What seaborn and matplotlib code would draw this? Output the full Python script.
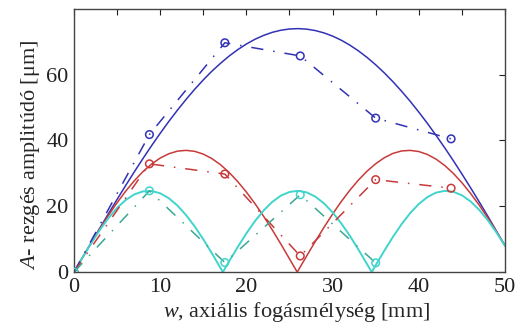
import matplotlib
matplotlib.use('Agg')
import matplotlib.pyplot as plt
from matplotlib.ticker import MultipleLocator, FuncFormatter, FixedLocator
import seaborn as sns

# solid curves (model), w in mm, A in um
w_grid = list(range(0, 51))
blue_model = [0, 4.49, 8.95, 13.39, 17.77, 22.10, 26.34, 30.48, 34.51, 38.41,
              42.17, 45.79, 49.22, 52.48, 55.55, 58.42, 61.07, 63.46, 65.67, 67.61,
              69.32, 70.77, 71.94, 72.87, 73.51, 73.89, 74.0, 73.84, 73.41, 72.70,
              71.73, 70.49, 68.99, 67.24, 65.25, 63.01, 60.55, 57.88, 54.99, 51.92,
              48.64, 45.21, 41.57, 37.82, 33.91, 29.84, 25.67, 21.40, 17.03, 12.52, 8.07]

w_red = list(range(0, 26)) + [25.9] + list(range(26, 51))
red_model = [0, 4.48, 8.89, 13.17, 17.26, 21.09, 24.61, 27.77, 30.54, 32.83,
             34.66, 35.97, 36.76, 37.0, 36.70, 35.86, 34.49, 32.63, 30.28, 27.49,
             24.32, 20.79, 16.95, 12.84, 8.52, 4.03, 0, 0.45, 4.92, 9.33, 13.59,
             17.63, 21.41, 24.87, 27.97, 30.68, 32.93, 34.75, 36.07, 36.81, 36.99,
             36.64, 35.75, 34.34, 32.42, 30.03, 27.18, 23.95, 20.38, 16.53, 12.38, 8.01]

w_cyan = list(range(0, 18)) + [17.27] + list(range(18, 35)) + [34.54] + list(range(35, 51))
cyan_model = [0, 4.47, 8.79, 12.82, 16.43, 19.50, 21.92, 23.62, 24.53, 24.65,
              23.94, 22.45, 20.22, 17.33, 13.88, 9.97, 5.70, 1.21, 0, 3.27, 7.64,
              11.77, 15.50, 18.72, 21.33, 23.23, 24.36, 24.69, 24.22, 22.94, 20.89,
              18.16, 14.81, 11.06, 6.82, 2.42, 0, 2.06, 6.48, 10.69, 14.54, 17.91,
              20.69, 22.79, 24.14, 24.69, 24.42, 23.35, 21.51, 18.96, 15.79, 12.10, 7.99]

# measured points (dash-dot with circles)
w_meas = [0, 8.75, 17.5, 26.25, 35, 43.75]
blue_meas = [0, 41.8, 69.7, 65.7, 46.8, 40.5]
red_meas = [0, 32.9, 29.8, 4.9, 28.1, 25.5]
cyan_meas = [0, 24.7, 2.9, 23.5, 2.8]

y_ticks = [0, 20, 40, 60]

sns.set_style("white")
plt.rcParams.update({
    "font.family": ["Liberation Serif", "DejaVu Serif"],
    "mathtext.fontset": "custom",
    "mathtext.rm": "Liberation Serif",
    "mathtext.it": "Liberation Serif:italic",
    "xtick.direction": "in", "ytick.direction": "in",
    "xtick.top": True, "ytick.right": True,
})

fig = plt.figure(figsize=(5.23, 3.29), dpi=100)
ax = fig.add_axes([0.1415, 0.173, 0.824, 0.80])

c_blue, c_red, c_cyan, c_teal = "#3232b4", "#c83a3a", "#40d4cc", "#38a894"
dashdot = (0, (8, 6.5, 1, 6.5))

sns.lineplot(x=w_grid, y=blue_model, ax=ax, color=c_blue, lw=1.1, sort=False, estimator=None)
sns.lineplot(x=w_red, y=red_model, ax=ax, color=c_red, lw=1.1, sort=False, estimator=None)
sns.lineplot(x=w_cyan, y=cyan_model, ax=ax, color=c_cyan, lw=1.4, sort=False, estimator=None)

for y, col in [(blue_meas, c_blue), (red_meas, c_red), (cyan_meas, c_teal)]:
    sns.lineplot(x=w_meas[:len(y)], y=y, ax=ax, color=col, lw=1.1, linestyle=dashdot,
                 sort=False, estimator=None)
    mcol = c_cyan if col == c_teal else col
    sns.scatterplot(x=w_meas[:len(y)], y=y, ax=ax, marker="o", s=30,
                    facecolor="none", edgecolor=mcol, linewidth=1.1, zorder=5)

ax.set_xlim(0, 50)
ax.set_ylim(0, 80)
ax.xaxis.set_major_locator(MultipleLocator(5))
ax.xaxis.set_major_formatter(FuncFormatter(lambda v, p: f"{v:.0f}" if v % 10 == 0 else ""))
ax.yaxis.set_major_locator(FixedLocator(y_ticks))
ax.tick_params(length=4, width=0.8, labelsize=16, colors="#222222", pad=4)
for s in ax.spines.values():
    s.set_color("#444444")
    s.set_linewidth(1.0)

ax.set_xlabel(r"$w$, axiális fogásmélység [mm]", fontsize=16, labelpad=0)
ax.set_ylabel(r"$A$- rezgés amplitúdó [μm]", fontsize=16)
ax.yaxis.set_label_coords(-0.074, 0.445)
ax.xaxis.set_label_coords(0.516, -0.105)

fig.savefig("out.png", dpi=100)
